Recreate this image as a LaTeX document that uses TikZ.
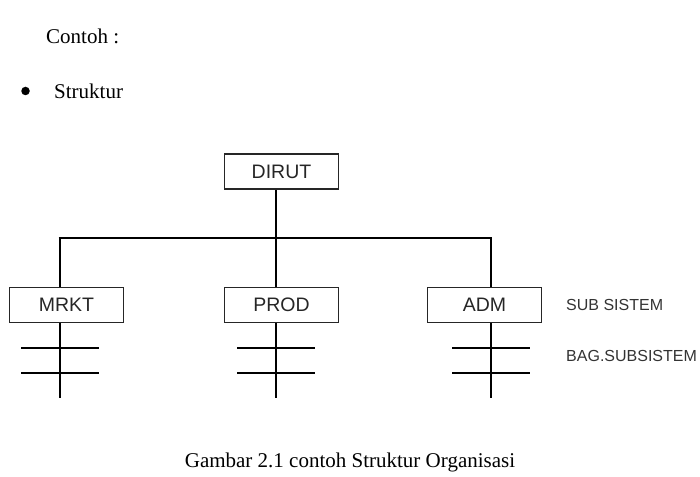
\documentclass[tikz,border=0pt]{standalone}
\usepackage{fontspec}
\setmainfont{Liberation Serif}
\setsansfont{Liberation Sans}
\usetikzlibrary{positioning}

\begin{document}
\begin{tikzpicture}[
  x=1pt, y=-1pt,
  serif/.style={font=\fontsize{21}{24}\selectfont\rmfamily, inner sep=0pt},
  unit/.style={draw=black!85, line width=1.6pt, minimum width=114pt,
               minimum height=35pt, inner sep=0pt,
               font=\fontsize{19.5}{22}\selectfont\sffamily, text=black!85},
  note/.style={anchor=west, inner sep=0pt, text=black!80,
               font=\fontsize{16}{18}\selectfont\sffamily},
  link/.style={line width=2.8pt, draw=black}
]
\useasboundingbox (0,0) rectangle (700,476);

% heading text
\node[serif, anchor=west] (contoh) at (46,36) {Contoh :};
\node[serif, anchor=west] (struktur) at (54,91) {Struktur};
\node[circle, fill=black, inner sep=0pt, minimum size=8.5pt] (bullet) at (25.5,91) {};

% boxes
\node[unit] (dirut) at (281.5,171.5) {DIRUT};
\node[unit] (mrkt) at (66.5,305) {MRKT};
\node[unit] (prod) at (281.5,305) {PROD};
\node[unit] (adm) at (484.5,305) {ADM};

\node[note] (subsis) at (566,305) {SUB SISTEM};
\node[note] (bagsub) at (566,356) {BAG.SUBSISTEM};

% tree lines
\coordinate (bus) at (276,238);
\coordinate (busL) at (60,238);
\coordinate (busR) at (491,238);
\draw[link] (dirut.south -| bus) -- (bus);
\draw[link] ([xshift=-1.4pt]busL) -- ([xshift=1.4pt]busR);
\draw[link] (busL) -- (mrkt.north -| busL);
\draw[link] (bus) -- (prod.north -| bus);
\draw[link] (busR) -- (adm.north -| busR);

% bagian sub sistem
\foreach \u/\x in {mrkt/60, prod/276, adm/491}{
  \coordinate (\u-end) at (\x,398);
  \draw[link] (\u.south -| \u-end) -- (\u-end);
  \draw[link] (\x-39,348) -- (\x+39,348);
  \draw[link] (\x-39,373) -- (\x+39,373);
}

\node[serif] (caption) at (350,462) {Gambar 2.1 contoh Struktur Organisasi};
\end{tikzpicture}
\end{document}
